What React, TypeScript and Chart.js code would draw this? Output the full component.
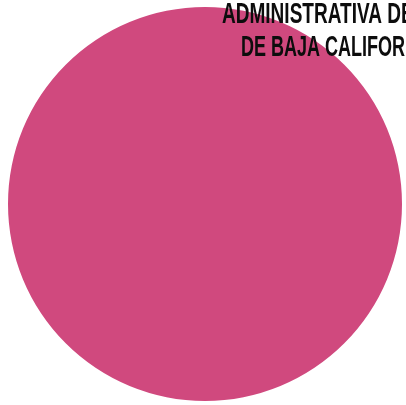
import React, { useEffect, useRef } from "react";
import { Chart, registerables } from "chart.js";

Chart.register(...registerables);

const categories = ["Total"];
const values = [100];
const sliceColors = ["#d0497e"];
const headerLines = ["ADMINISTRATIVA DE", "DE BAJA CALIFORNIA"];
const headerFitText = ["ADMINISTRATIVA D", "DE BAJA CALIFOR"];

const headerPlugin = {
  id: "headerText",
  afterDraw(chart: any) {
    const ctx = chart.ctx;
    const drawLine = (text: string, fit: string, x: number, y: number, w: number) => {
      ctx.save();
      ctx.font = "bold 29px 'Liberation Sans', Arial, sans-serif";
      const m = ctx.measureText(fit).width;
      const sx = w / m;
      ctx.translate(x, y);
      ctx.scale(sx, 1);
      ctx.fillStyle = "#0d0d0d";
      ctx.textBaseline = "alphabetic";
      ctx.textAlign = "left";
      ctx.fillText(text, 0, 0);
      ctx.restore();
    };
    drawLine(headerLines[0], headerFitText[0], 222, 23, 179);
    drawLine(headerLines[1], headerFitText[1], 241, 56, 164);
  },
};

export default function App() {
  const ref = useRef<HTMLCanvasElement | null>(null);
  useEffect(() => {
    document.body.style.margin = "0";
    const canvas = ref.current;
    if (!canvas) return;
    const chart = new Chart(canvas, {
      type: "pie",
      data: {
        labels: categories,
        datasets: [
          {
            data: values,
            backgroundColor: sliceColors,
            borderWidth: 0,
          },
        ],
      },
      options: {
        animation: false,
        responsive: false,
        devicePixelRatio: 1,
        layout: { padding: { left: 8, right: 4, top: 6, bottom: 3 } },
        plugins: {
          legend: { display: false },
          tooltip: { enabled: false },
        },
      },
      plugins: [headerPlugin],
    });
    return () => chart.destroy();
  }, []);
  return (
    <div style={{ width: 406, height: 405, background: "#ffffff" }}>
      <canvas ref={ref} width={406} height={405} style={{ display: "block" }} />
    </div>
  );
}
